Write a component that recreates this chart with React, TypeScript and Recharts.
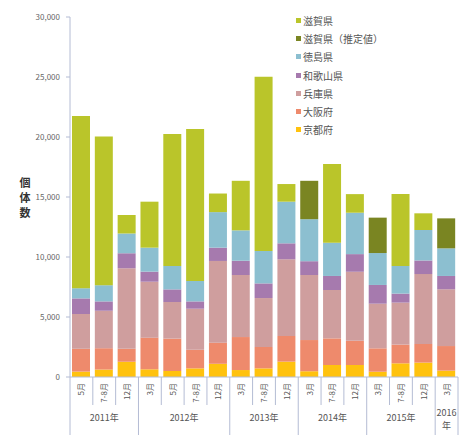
import { Bar, BarChart, Legend, XAxis, YAxis } from 'recharts';

const periods = ['5月', '7-8月', '12月', '3月', '5月', '7-8月', '12月', '3月', '7-8月', '12月', '3月', '7-8月', '12月', '3月', '7-8月', '12月', '3月'];
const yearLabels = ['2011年', '2012年', '2013年', '2014年', '2015年', '2016年'];
const yearSizes = [3, 4, 3, 3, 3, 1];
const yTicks = [0, 5000, 10000, 15000, 20000, 25000, 30000];

const kyoto = [450, 620, 1280, 640, 500, 720, 1100, 580, 720, 1280, 480, 1000, 1000, 440, 1140, 1200, 530];
const osaka = [1900, 1780, 1080, 2640, 2700, 1550, 1760, 2750, 1780, 2140, 2600, 2220, 2020, 1950, 1560, 1550, 2050];
const hyogo = [2900, 3120, 6700, 4660, 3050, 3420, 6810, 5170, 4080, 6390, 5420, 4030, 5750, 3720, 3500, 5830, 4730];
const wakayama = [1300, 780, 1250, 840, 1050, 610, 1110, 1190, 1220, 1330, 1150, 1170, 1470, 1560, 750, 1130, 1110];
const tokushima = [850, 1350, 1650, 2000, 1950, 1700, 2960, 2530, 2700, 3470, 3500, 2770, 3450, 2660, 2300, 2540, 2300];
const shigaEst = [null, null, null, null, null, null, null, null, null, null, 3200, null, null, 2950, null, null, 2500];
const shiga = [14350, 12400, 1550, 3830, 11000, 12670, 1550, 4130, 14530, 1470, null, 6560, 1550, null, 6000, 1390, null];

const series = [
  { key: 'kyoto', name: '京都府', color: '#FFC20E', values: kyoto },
  { key: 'osaka', name: '大阪府', color: '#EE8A6C', values: osaka },
  { key: 'hyogo', name: '兵庫県', color: '#CF9E9E', values: hyogo },
  { key: 'wakayama', name: '和歌山県', color: '#A67AAE', values: wakayama },
  { key: 'tokushima', name: '徳島県', color: '#8CBFD0', values: tokushima },
  { key: 'shigaEst', name: '滋賀県（推定値）', color: '#7A8522', values: shigaEst },
  { key: 'shiga', name: '滋賀県', color: '#BAC52A', values: shiga },
];

const data = periods.map((p, i) => {
  const row: Record<string, any> = { id: i, period: p };
  series.forEach((s) => {
    row[s.key] = s.values[i];
  });
  return row;
});

const FONT = '"Noto Sans CJK JP", "Noto Sans", sans-serif';
const AXIS = '#B4BCD4';
const PLOT_LEFT = 70;
const PLOT_RIGHT = 458;
const PLOT_BOTTOM = 377;
const BAND = (PLOT_RIGHT - PLOT_LEFT) / periods.length;

const groupStarts = yearSizes.map((_, g) => yearSizes.slice(0, g).reduce((a, b) => a + b, 0));

function PeriodTick(props: any) {
  const { x, payload } = props;
  const i = Number(payload.value);
  const left = x - BAND / 2;
  const g = groupStarts.indexOf(i);
  const isLast = i === periods.length - 1;
  return (
    <g>
      <line x1={left} x2={left} y1={PLOT_BOTTOM} y2={g >= 0 ? 435 : 405} stroke={AXIS} />
      {isLast && <line x1={left + BAND} x2={left + BAND} y1={PLOT_BOTTOM} y2={435} stroke={AXIS} />}
      <text
        x={x + 3}
        y={PLOT_BOTTOM + 6}
        transform={`rotate(-90, ${x + 3}, ${PLOT_BOTTOM + 6})`}
        textAnchor='end'
        fontSize={8}
        fill='#555'
        fontFamily={FONT}
      >
        {periods[i]}
      </text>
      {g >= 0 &&
        (yearSizes[g] > 1 ? (
          <text x={left + (yearSizes[g] * BAND) / 2} y={421} textAnchor='middle' fontSize={9} fill='#555' fontFamily={FONT}>
            {yearLabels[g]}
          </text>
        ) : (
          <text x={left + BAND / 2} y={416} textAnchor='middle' fontSize={9} fill='#555' fontFamily={FONT}>
            <tspan x={left + BAND / 2}>{yearLabels[g].slice(0, 4)}</tspan>
            <tspan x={left + BAND / 2} dy={13}>{yearLabels[g].slice(4)}</tspan>
          </text>
        ))}
    </g>
  );
}

function LegendBox() {
  return (
    <div style={{ fontFamily: FONT, fontSize: 10, color: '#555' }}>
      {[...series].reverse().map((s) => (
        <div key={s.key} style={{ height: 18.3, display: 'flex', alignItems: 'center' }}>
          <span style={{ width: 5, height: 5, background: s.color, marginRight: 2 }} />
          {s.name}
        </div>
      ))}
    </div>
  );
}

function YTitle() {
  return (
    <g fontSize={11} fontWeight='bold' fill='#333' fontFamily={FONT}>
      <text x={25} y={187} textAnchor='middle'>個</text>
      <text x={25} y={202} textAnchor='middle'>体</text>
      <text x={25} y={217} textAnchor='middle'>数</text>
    </g>
  );
}

export default function App() {
  return (
    <div style={{ position: 'absolute', left: 0, top: 0 }}>
      <BarChart
        width={460}
        height={435}
        data={data}
        margin={{ top: 17, right: 2, left: 0, bottom: 0 }}
        barSize={18}
      >
        <XAxis
          dataKey='id'
          interval={0}
          height={58}
          tickLine={false}
          axisLine={{ stroke: AXIS }}
          tick={PeriodTick}
        />
        <YAxis
          width={70}
          domain={[0, 30000]}
          ticks={yTicks}
          tickSize={4}
          tickMargin={6}
          tickLine={{ stroke: AXIS }}
          axisLine={{ stroke: AXIS }}
          tickFormatter={(v: number) => v.toLocaleString('en-US')}
          tick={{ fontSize: 8, fill: '#666', fontFamily: FONT }}
          label={{ content: YTitle }}
        />
        <Legend
          layout='vertical'
          align='center'
          verticalAlign='middle'
          content={LegendBox}
          wrapperStyle={{ position: 'absolute', left: 296, top: 11, width: 160 }}
        />
        {series.map((s) => (
          <Bar key={s.key} dataKey={s.key} name={s.name} stackId='all' fill={s.color} isAnimationActive={false} />
        ))}
      </BarChart>
    </div>
  );
}
